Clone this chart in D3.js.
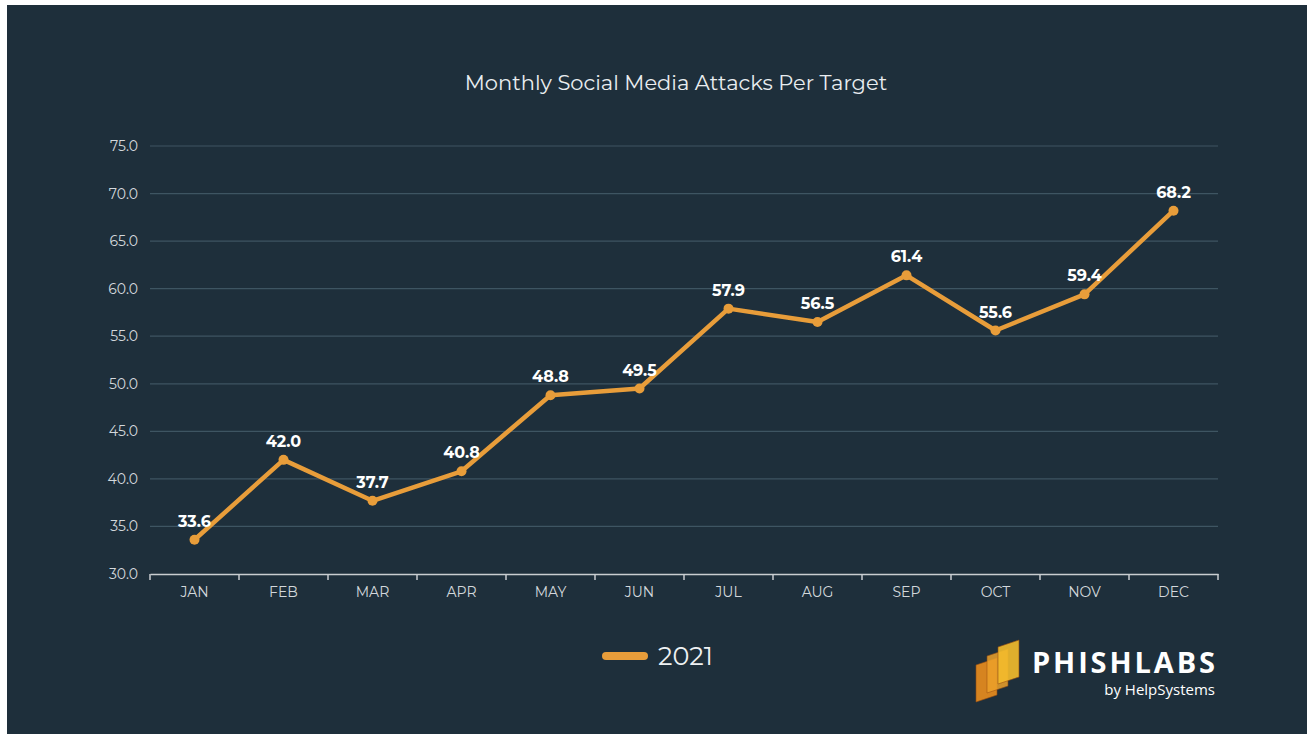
<!DOCTYPE html>
<html>
<head>
<meta charset="utf-8">
<script src="https://cdn.jsdelivr.net/npm/d3@7"></script>
<style>
    html, body { margin: 0; padding: 0; background: #ffffff; }
    svg { display: block; }
</style>
</head>
<body>
<div class="chart"></div>
<script>

// Datos
const months = ["JAN","FEB","MAR","APR","MAY","JUN","JUL","AUG","SEP","OCT","NOV","DEC"];
const attacks2021 = [33.6, 42.0, 37.7, 40.8, 48.8, 49.5, 57.9, 56.5, 61.4, 55.6, 59.4, 68.2];
const yTicks = [30, 35, 40, 45, 50, 55, 60, 65, 70, 75];
const seriesName = "2021";
const chartTitle = "Monthly Social Media Attacks Per Target";

function drawChart(){

    const width = 1307;
    const height = 734;

    const fontFamily = "Montserrat, 'Noto Sans', Lato, sans-serif";

    const svg = d3.select(".chart")
        .append("svg")
        .attr("width", width)
        .attr("height", height);

    // Fondo
    svg.append("rect")
        .attr("x", 7)
        .attr("y", 5)
        .attr("width", width - 7)
        .attr("height", height - 5)
        .attr("fill", "#1e2f3b");

    const x = d3.scaleBand()
        .domain(months)
        .range([150, 1218]);

    const y = d3.scaleLinear()
        .domain([30, 75])
        .range([574, 146]);

    // Titulo
    svg.append("text")
        .attr("x", 676)
        .attr("y", 90)
        .attr("text-anchor", "middle")
        .attr("fill", "#e9edf0")
        .style("font-family", fontFamily)
        .style("font-size", "21px")
        .text(chartTitle);

    // Grid
    svg.append("g")
        .selectAll("line")
        .data(yTicks.filter(d => d > 30))
        .enter()
        .append("line")
        .attr("x1", 150)
        .attr("x2", 1218)
        .attr("y1", d => y(d))
        .attr("y2", d => y(d))
        .attr("stroke", "#3e5562")
        .attr("stroke-width", 1.2);

    // Eje Y
    const yAxis = svg.append("g")
        .attr("transform", "translate(150,0)")
        .call(d3.axisLeft(y).tickValues(yTicks).tickFormat(d3.format(".1f")).tickSize(0).tickPadding(12));

    yAxis.select(".domain").remove();
    yAxis.selectAll("text")
        .attr("fill", "#d3d8dc")
        .style("font-family", fontFamily)
        .style("font-size", "14px");

    // Eje X
    const xAxis = svg.append("g")
        .attr("transform", "translate(0,574)")
        .call(d3.axisBottom(x).tickSize(0).tickPadding(13));

    xAxis.select(".domain")
        .attr("stroke", "#c9cdd0")
        .attr("stroke-width", 1.5);

    xAxis.selectAll("text")
        .attr("fill", "#d3d8dc")
        .style("font-family", fontFamily)
        .style("font-size", "14px");

    // Marcas entre categorias
    const boundaries = months.map(m => x(m)).concat([x.range()[1]]);

    svg.append("g")
        .selectAll("line")
        .data(boundaries)
        .enter()
        .append("line")
        .attr("x1", d => d)
        .attr("x2", d => d)
        .attr("y1", 574)
        .attr("y2", 580)
        .attr("stroke", "#c9cdd0")
        .attr("stroke-width", 1.5);

    // Linea
    const points = months.map((m, i) => ({ month: m, value: attacks2021[i] }));

    const line = d3.line()
        .x(d => x(d.month) + x.bandwidth() / 2)
        .y(d => y(d.value));

    svg.append("path")
        .datum(points)
        .attr("d", line)
        .attr("fill", "none")
        .attr("stroke", "#e89d3a")
        .attr("stroke-width", 4.5)
        .attr("stroke-linejoin", "round");

    svg.append("g")
        .selectAll("circle")
        .data(points)
        .enter()
        .append("circle")
        .attr("cx", d => x(d.month) + x.bandwidth() / 2)
        .attr("cy", d => y(d.value))
        .attr("r", 5)
        .attr("fill", "#e89d3a");

    // Etiquetas
    svg.append("g")
        .selectAll("text")
        .data(points)
        .enter()
        .append("text")
        .attr("x", d => x(d.month) + x.bandwidth() / 2)
        .attr("y", d => y(d.value) - 13)
        .attr("text-anchor", "middle")
        .attr("fill", "#ffffff")
        .style("font-family", fontFamily)
        .style("font-size", "16px")
        .style("font-weight", "700")
        .text(d => d3.format(".1f")(d.value));

    // Leyenda
    const legend = svg.append("g");

    legend.append("line")
        .attr("x1", 606)
        .attr("x2", 644)
        .attr("y1", 656)
        .attr("y2", 656)
        .attr("stroke", "#e89d3a")
        .attr("stroke-width", 8)
        .attr("stroke-linecap", "round");

    legend.append("text")
        .attr("x", 658)
        .attr("y", 665)
        .attr("fill", "#eef1f3")
        .style("font-family", fontFamily)
        .style("font-size", "25.5px")
        .text(seriesName);

    // Logo
    const logo = svg.append("g");

    const panels = [
        { dx: 0,  dy: 18, color: "#e0891f", opacity: 0.95 },
        { dx: 11, dy: 9,  color: "#eda12a", opacity: 0.85 },
        { dx: 22, dy: 0,  color: "#f4bc2c", opacity: 0.9 }
    ];

    logo.selectAll("path")
        .data(panels)
        .enter()
        .append("path")
        .attr("d", d => {
            const x0 = 976 + d.dx;
            const y0 = 647 + d.dy;
            return `M${x0},${y0} L${x0 + 21},${y0 - 7} L${x0 + 21},${y0 + 30} L${x0},${y0 + 37} Z`;
        })
        .attr("fill", d => d.color)
        .attr("opacity", d => d.opacity)
        .attr("stroke", "#9c4f12")
        .attr("stroke-width", 0.6);

    logo.append("text")
        .attr("x", 1032)
        .attr("y", 673)
        .attr("fill", "#ffffff")
        .attr("textLength", 183)
        .attr("lengthAdjust", "spacing")
        .style("font-family", "'Open Sans', 'Noto Sans', sans-serif")
        .style("font-size", "29px")
        .style("font-weight", "700")
        .text("PHISHLABS");

    logo.append("text")
        .attr("x", 1215)
        .attr("y", 695)
        .attr("text-anchor", "end")
        .attr("fill", "#ffffff")
        .style("font-family", "'Open Sans', 'Noto Sans', sans-serif")
        .style("font-size", "15px")
        .text("by HelpSystems");

}

drawChart();
</script>
</body>
</html>
